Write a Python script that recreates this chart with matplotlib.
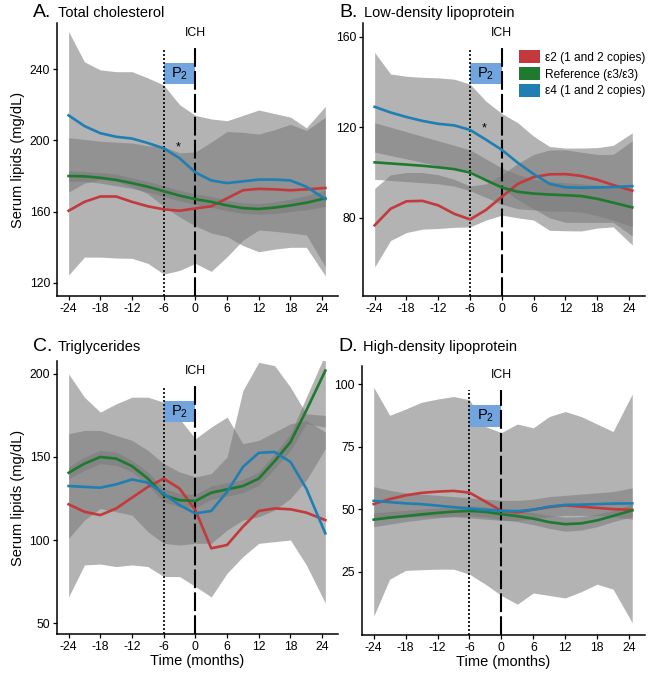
import matplotlib
matplotlib.use("Agg")
import matplotlib.pyplot as plt
from matplotlib.patches import Patch, Rectangle
import matplotlib.transforms as mtransforms

plt.rcParams['font.family'] = ['Liberation Sans', 'DejaVu Sans']

# months
months = [-24, -21, -18, -15, -12, -9, -6, -3, 0, 3, 6, 9, 12, 15, 18, 21, 24.6]
xticks = [-24, -18, -12, -6, 0, 6, 12, 18, 24]

# A. total cholesterol
a_e2 = [160.5, 165.5, 168.5, 168.5, 165.5, 163, 161.3, 160.5, 161.8, 163, 167.5, 172, 172.8, 172.5, 172, 172.5, 173.3]
a_ref = [180, 179.8, 179, 177.8, 176, 174, 171.5, 169, 167, 165.5, 163.5, 162, 161.5, 162.3, 163.5, 165, 167.5]
a_e4 = [214, 208, 204, 202, 201, 198.5, 195.5, 190, 182, 177.5, 176, 177, 178, 178, 177.5, 174, 167]
a_e2_hi = [201.5, 200.5, 199.5, 199, 198.5, 197, 196.4, 193, 193.5, 199, 205, 204.5, 203.5, 206, 209, 205.5, 213]
a_e2_lo = [124.5, 134.5, 134.5, 134, 133.8, 131, 125, 127, 131, 126.5, 134.7, 144, 149.7, 149, 148, 147, 129]
a_ref_hi = [183, 182.5, 182, 181, 179, 177, 174.5, 172, 170, 168.5, 166.5, 165, 164.5, 165.5, 167, 169, 172]
a_ref_lo = [177, 177, 176, 174.5, 173, 171, 168.5, 166, 164, 162.5, 160.5, 159, 158.5, 159, 160, 161, 163]
a_e4_hi = [261, 244, 239.5, 238.5, 238.5, 235, 231, 220, 214, 212, 211, 214, 217, 215, 213, 207, 219]
a_e4_lo = [171, 176, 178, 177, 174, 170, 163, 157, 152, 148, 146, 141, 137.5, 139, 140, 140, 124]

# B. LDL
b_e2 = [76.7, 84, 87.3, 87.5, 85.5, 81.8, 79.3, 83.5, 89.3, 95, 98, 99.2, 99.3, 98.5, 96.8, 94.5, 92]
b_ref = [104.5, 104, 103.5, 103, 102.3, 101.5, 100, 96.6, 93.4, 91.5, 90.7, 90.3, 90, 89.6, 88.4, 86.7, 84.6]
b_e4 = [129, 126.5, 124.5, 122.8, 121.5, 120.8, 118.8, 114.5, 110, 104.3, 99.3, 95, 93.5, 93.3, 93.4, 93.6, 94]
b_e2_hi = [93, 99, 100, 100, 99, 97, 94, 95, 99, 104, 108, 110, 110, 109, 108, 108, 114]
b_e2_lo = [58.3, 70, 73.5, 75, 75.3, 75.8, 76, 79, 81.2, 80, 79, 74.5, 74.3, 74.2, 75.5, 76, 68]
b_ref_hi = [122, 120, 118, 116, 114, 112, 110, 106, 102, 99, 97, 96, 95.5, 95, 94.5, 94, 93]
b_ref_lo = [97, 96.5, 96, 95.5, 95, 94, 92, 89, 86, 84, 83.5, 83, 83, 82.5, 81, 79, 76]
b_e4_hi = [153, 143.5, 142.5, 142, 141.8, 141.2, 139, 131.5, 126, 122, 116, 111.5, 110.8, 110.8, 111, 112, 117.5]
b_e4_lo = [109, 107.5, 106, 104.5, 103, 102, 101, 97, 93, 88, 84, 80, 78, 78, 78, 78, 72]

# C. triglycerides
c_e2 = [121.5, 117, 115, 119, 125.5, 132, 137, 131, 118, 95, 97, 108, 117.5, 119, 118.5, 116.5, 112]
c_ref = [140.5, 146, 150, 149, 144.5, 137, 127, 124, 123.5, 128.5, 130.5, 132.5, 137, 147.5, 159, 178, 202]
c_e4 = [132.5, 132, 131.5, 133.5, 136.5, 134.5, 128, 121, 116, 117.5, 129, 144, 152.5, 153, 147, 131, 104]
c_e2_hi = [200, 186, 177, 182, 186, 186, 183, 173, 161, 168, 174, 158, 160, 165, 170, 172, 165]
c_e2_lo = [65.7, 85, 85.5, 84, 85, 84, 78, 78, 72, 65.7, 80, 90, 98, 99, 100, 85, 62]
c_ref_hi = [144, 150, 154, 153, 148, 141, 131, 128, 127.5, 132.5, 134.5, 136.5, 141, 152, 164, 186, 212]
c_ref_lo = [137, 142, 146, 145, 141, 133, 123, 120, 119.5, 124.5, 126.5, 128.5, 133, 143, 154, 170, 168]
c_e4_hi = [164, 166, 166, 163, 160, 154, 146, 141, 138, 140, 150, 190, 207, 205, 192, 176, 175]
c_e4_lo = [101, 112, 119, 117, 115, 105, 98, 97, 98, 98, 106, 112, 114, 118, 125, 136, 155]

# D. HDL
d_e2 = [52, 54, 55.5, 56.5, 57, 57.3, 56.6, 53, 49.3, 48.7, 49.8, 50.8, 51.5, 51, 50.5, 50, 49.7]
d_ref = [45.8, 46.6, 47.2, 47.9, 48.5, 49, 49.3, 48.9, 48, 47.2, 46.2, 44.8, 44, 44.3, 45.5, 47.3, 49.5]
d_e4 = [53.3, 52.8, 52.3, 52, 51.4, 50.8, 50.2, 49.7, 49.3, 49.2, 49.8, 51, 51.7, 51.8, 52, 52.2, 52.3]
d_e2_hi = [98.7, 87.5, 90, 92.7, 94, 95, 93.7, 83, 80.6, 84, 82.5, 87, 89, 87, 84, 81, 96]
d_e2_lo = [7.2, 22, 25.5, 25.8, 26, 26, 24, 20, 15.5, 12, 16.5, 15.5, 14.5, 17, 20, 18, 4.6]
d_ref_hi = [48.5, 49, 49.5, 50, 50.5, 51, 51.3, 51, 50.2, 49.5, 48.6, 47.5, 46.8, 47, 48, 49.5, 52]
d_ref_lo = [43, 44, 45, 45.8, 46.5, 47, 47.3, 46.8, 45.8, 45, 43.8, 42.3, 41.2, 41.6, 43, 45, 47]
d_e4_hi = [59, 57.5, 56.5, 56, 55.5, 55, 54.5, 54, 53.5, 53.5, 54, 55, 55.5, 56, 56.5, 57, 58.5]
d_e4_lo = [46, 46.5, 46.8, 47, 47, 47, 46.5, 46, 45.5, 45.5, 46, 47, 47.5, 47.5, 47.5, 47, 46]

RED = '#c4393b'
GREEN = '#1d7a2e'
BLUE = '#1f7fb3'
BOX = '#72a5de'
W, H = 651, 679

panels = [
    dict(letter='A.', name='Total cholesterol', rect=(57, 23, 338, 296), ylim=(112.7, 265.8),
         yticks=[120, 160, 200, 240], lines=(a_e2, a_ref, a_e4),
         bands=((a_e2_lo, a_e2_hi), (a_ref_lo, a_ref_hi), (a_e4_lo, a_e4_hi)),
         star=(-3.3, 196), ylab=True, xlab=False, title_y=17),
    dict(letter='B.', name='Low-density lipoprotein', rect=(363, 23, 645, 296), ylim=(45.5, 166),
         yticks=[80, 120, 160], lines=(b_e2, b_ref, b_e4),
         bands=((b_e2_lo, b_e2_hi), (b_ref_lo, b_ref_hi), (b_e4_lo, b_e4_hi)),
         star=(-3.4, 119.5), ylab=False, xlab=False, title_y=17),
    dict(letter='C.', name='Triglycerides', rect=(57, 361, 338, 634), ylim=(43.4, 207.8),
         yticks=[50, 100, 150, 200], lines=(c_e2, c_ref, c_e4),
         bands=((c_e2_lo, c_e2_hi), (c_ref_lo, c_ref_hi), (c_e4_lo, c_e4_hi)),
         star=None, ylab=True, xlab=True, title_y=351),
    dict(letter='D.', name='High-density lipoprotein', rect=(362, 366, 645, 635), ylim=(-0.3, 107.2),
         yticks=[25, 50, 75, 100], lines=(d_e2, d_ref, d_e4),
         bands=((d_e2_lo, d_e2_hi), (d_ref_lo, d_ref_hi), (d_e4_lo, d_e4_hi)),
         star=None, ylab=False, xlab=True, title_y=351),
]

fig = plt.figure(figsize=(W / 100, H / 100), dpi=100)

for p in panels:
    l, t, r, b = p['rect']
    ax = fig.add_axes([l / W, 1 - b / H, (r - l) / W, (b - t) / H])
    for lo, hi in p['bands']:
        ax.fill_between(months, lo, hi, color='#7a7a7a', alpha=0.57, linewidth=0)

    trans = mtransforms.blended_transform_factory(ax.transData, ax.transAxes)
    ax.add_patch(Rectangle((-6, 0.775), 6, 0.08, transform=trans,
                           facecolor=BOX, edgecolor='none', zorder=3))
    ax.text(-3, 0.815, r'$\mathregular{P_2}$', transform=trans, ha='center', va='center',
            fontsize=10.5, zorder=4)
    ax.axvline(-6, ymin=0, ymax=0.91, color='black', linestyle=(0, (1.2, 1.2)), linewidth=1.2, zorder=4)
    ax.axvline(0, ymin=0, ymax=0.91, color='black', linestyle=(0, (9, 2)), linewidth=1.5, zorder=4)
    ax.text(0, 0.965, 'ICH', transform=trans, ha='center', va='center', fontsize=8.8)

    e2, ref, e4 = p['lines']
    ax.plot(months, e2, color=RED, linewidth=1.9, zorder=5)
    ax.plot(months, ref, color=GREEN, linewidth=1.9, zorder=5)
    ax.plot(months, e4, color=BLUE, linewidth=1.9, zorder=5)

    if p['star']:
        ax.text(p['star'][0], p['star'][1], '*', ha='center', va='center', fontsize=9, zorder=6)

    ax.set_xlim(-26.2, 27.0)
    ax.set_ylim(*p['ylim'])
    ax.set_xticks(xticks)
    ax.set_xticklabels([str(v) for v in xticks])
    ax.set_yticks(p['yticks'])
    ax.tick_params(labelsize=8.8, length=3, width=0.9, pad=2, colors='black')
    for s in ('top', 'right'):
        ax.spines[s].set_visible(False)
    for s in ('left', 'bottom'):
        ax.spines[s].set_linewidth(1.1)
    if p['ylab']:
        ax.set_ylabel('Serum lipids (mg/dL)', fontsize=10.5, labelpad=3)
    if p['xlab']:
        ax.set_xlabel('Time (months)', fontsize=10.5, labelpad=1)

    fig.text((l - 24) / W, 1 - p['title_y'] / H, p['letter'], fontsize=14, va='baseline')
    fig.text((l + 1) / W, 1 - p['title_y'] / H, p['name'], fontsize=10.5, va='baseline')

    if p['letter'] == 'B.':
        handles = [Patch(facecolor=RED, edgecolor='none'),
                   Patch(facecolor=GREEN, edgecolor='none'),
                   Patch(facecolor=BLUE, edgecolor='none')]
        ax.legend(handles, ['ε2 (1 and 2 copies)', 'Reference (ε3/ε3)', 'ε4 (1 and 2 copies)'],
                  loc='upper left', bbox_to_anchor=(0.553, 0.9), frameon=False, fontsize=8.6,
                  handlelength=1.8, handleheight=1.25, labelspacing=0.3, handletextpad=0.35,
                  borderpad=0, borderaxespad=0)

fig.savefig('out.png', dpi=100)
